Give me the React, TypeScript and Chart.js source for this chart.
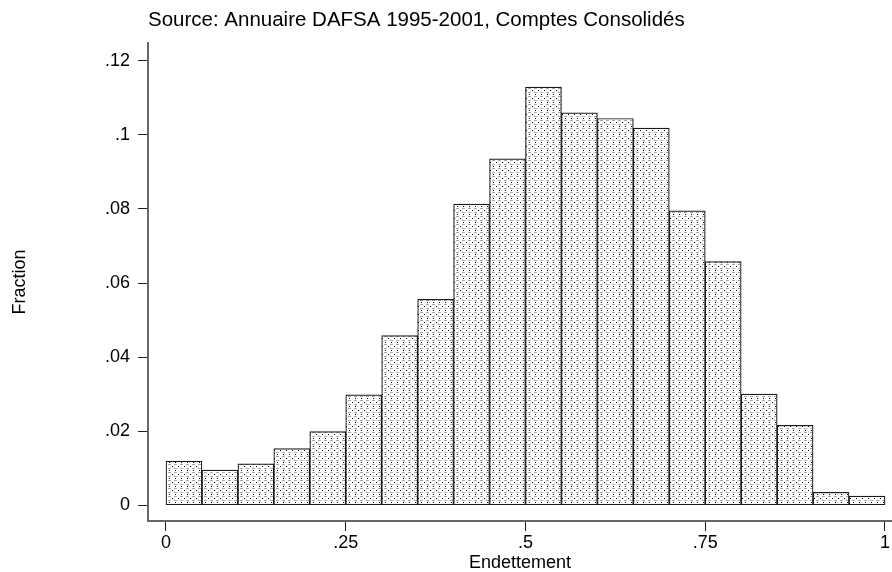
import React, { useEffect, useRef } from 'react';
import { Chart, registerables } from 'chart.js';

Chart.register(...registerables);

const binCenters = [0.025, 0.075, 0.125, 0.175, 0.225, 0.275, 0.325, 0.375, 0.425, 0.475, 0.525, 0.575, 0.625, 0.675, 0.725, 0.775, 0.825, 0.875, 0.925, 0.975];
const fractions = [0.0119, 0.0095, 0.0112, 0.0153, 0.0199, 0.0298, 0.0458, 0.0556, 0.0813, 0.0935, 0.1129, 0.1059, 0.1044, 0.1018, 0.0795, 0.0658, 0.0300, 0.0216, 0.0035, 0.0025];
const xTicks = [0, 0.25, 0.5, 0.75, 1];
const xTickLabels = ['0', '.25', '.5', '.75', '1'];
const yTicks = [0, 0.02, 0.04, 0.06, 0.08, 0.1, 0.12];
const yTickLabels = ['0', '.02', '.04', '.06', '.08', '.1', '.12'];
const sourceNote = 'Source: Annuaire DAFSA 1995-2001, Comptes Consolidés';
const xTitle = 'Endettement';
const yTitle = 'Fraction';

const FONT = '"Liberation Sans", Arial, sans-serif';

function makePattern(): CanvasPattern | string {
  const c = document.createElement('canvas');
  c.width = 6;
  c.height = 8;
  const g = c.getContext('2d');
  if (!g) return '#ddd';
  g.fillStyle = '#ffffff';
  g.fillRect(0, 0, 6, 8);
  g.fillStyle = '#a8a8a8';
  g.fillRect(0, 0, 3, 1);
  g.fillRect(0, 4, 3, 1);
  g.fillStyle = '#000000';
  g.fillRect(4, 2, 1, 1);
  g.fillRect(1, 6, 1, 1);
  const p = g.createPattern(c, 'repeat');
  return p || '#ddd';
}

const notePlugin = {
  id: 'sourceNote',
  afterDraw(chart: any) {
    const ctx = chart.ctx;
    ctx.save();
    ctx.fillStyle = '#000';
    ctx.font = `20.5px ${FONT}`;
    ctx.textAlign = 'left';
    ctx.textBaseline = 'middle';
    ctx.fillText(sourceNote, 148, 20);
    ctx.restore();
  },
};

export default function App() {
  const ref = useRef<HTMLCanvasElement | null>(null);

  useEffect(() => {
    if (!ref.current) return;
    const pattern = makePattern();
    const chart = new Chart(ref.current, {
      type: 'bar',
      data: {
        datasets: [
          {
            data: binCenters.map((x, i) => ({ x, y: fractions[i] })),
            backgroundColor: pattern as any,
            borderColor: '#1a1a1a',
            borderWidth: 1.2,
            borderSkipped: false,
            barPercentage: 1,
            categoryPercentage: 1,
          },
        ],
      },
      options: {
        animation: false,
        responsive: false,
        maintainAspectRatio: false,
        layout: { padding: { top: 43, left: 0, right: 0, bottom: 0 } },
        plugins: {
          legend: { display: false },
          tooltip: { enabled: false },
          title: { display: false },
        },
        scales: {
          x: {
            type: 'linear',
            offset: false,
            min: -0.02503,
            max: 1.00974,
            afterBuildTicks: (scale: any) => {
              scale.ticks = xTicks.map((v) => ({ value: v }));
            },
            afterFit: (scale: any) => {
              scale.height = 51;
            },
            ticks: {
              autoSkip: false,
              maxRotation: 0,
              padding: 1,
              color: '#000',
              font: { family: FONT, size: 18 },
              callback: (value: any) => {
                const i = xTicks.indexOf(Number(value));
                return i >= 0 ? xTickLabels[i] : '';
              },
            },
            grid: {
              offset: false,
              drawOnChartArea: false,
              drawTicks: true,
              tickLength: 10,
              color: '#222',
              lineWidth: 1,
            },
            border: { display: true, color: '#666', width: 2 },
            title: {
              display: true,
              text: xTitle,
              color: '#000',
              font: { family: FONT, size: 18, lineHeight: 1 },
              padding: { top: 0, bottom: 0 },
            },
          },
          y: {
            type: 'linear',
            min: -0.00424,
            max: 0.12478,
            afterBuildTicks: (scale: any) => {
              scale.ticks = yTicks.map((v) => ({ value: v }));
            },
            afterFit: (scale: any) => {
              scale.width = 148;
            },
            ticks: {
              autoSkip: false,
              padding: 8,
              color: '#000',
              font: { family: FONT, size: 18 },
              callback: (value: any) => {
                const i = yTicks.findIndex((t) => Math.abs(t - Number(value)) < 1e-9);
                return i >= 0 ? yTickLabels[i] : '';
              },
            },
            grid: {
              drawOnChartArea: false,
              drawTicks: true,
              tickLength: 10,
              color: '#222',
              lineWidth: 1,
            },
            border: { display: true, color: '#666', width: 2 },
            title: {
              display: true,
              text: yTitle,
              color: '#000',
              font: { family: FONT, size: 18 },
              padding: { top: 9, bottom: 0 },
            },
          },
        },
      },
      plugins: [notePlugin],
    });
    return () => chart.destroy();
  }, []);

  return (
    <div style={{ position: 'fixed', left: 0, top: 0, width: 892, height: 572, background: '#fff' }}>
      <canvas ref={ref} width={892} height={572} style={{ display: 'block' }} />
    </div>
  );
}
